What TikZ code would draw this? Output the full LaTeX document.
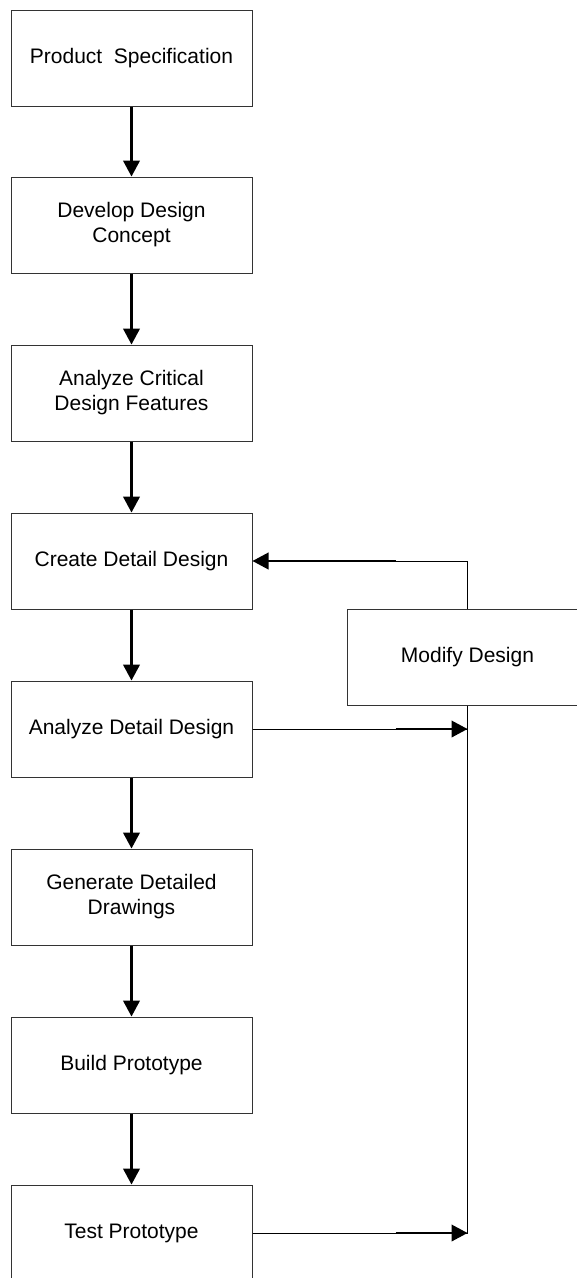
\documentclass[tikz,border=0pt]{standalone}
\usepackage{fontspec}
\setmainfont{Liberation Sans}
\usetikzlibrary{arrows.meta,positioning}
\tikzset{
  flow box/.style={draw=black!80, line width=0.75pt, minimum width=241*0.75pt,
    minimum height=96*0.75pt, inner sep=2pt, align=center,
    font=\fontsize{15.75}{18.75}\selectfont},
  flow arrow/.style={-{Triangle[length=12pt,width=12.5pt]},line width=1.6pt},
  back line/.style={line width=0.75pt},
  back arrow/.style={-{Triangle[length=12pt,width=12.5pt]},line width=1.3pt}
}
\newcommand{\flowStep}[3]{%
  \node[flow box] (#1) at (131.5,#2) {#3};%
}

\begin{document}
\begin{tikzpicture}[x=0.75pt,y=-0.75pt]
  \useasboundingbox (0,0) rectangle (577,1278);
  \clip (0,0) rectangle (577,1278);

  \flowStep{spec}{58}{Product\ \ Specification}
  \flowStep{concept}{225}{Develop Design\\Concept}
  \flowStep{critical}{393}{Analyze Critical\\Design Features}
  \flowStep{detail}{561}{Create Detail Design}
  \flowStep{analyze}{729}{Analyze Detail Design}
  \flowStep{drawings}{897}{Generate Detailed\\Drawings}
  \flowStep{build}{1065}{Build Prototype}
  \flowStep{test}{1233}{Test Prototype}

  \node[flow box] (modify) at (467.5,657) {Modify Design};

  % main chain
  \foreach \a/\b in {spec/concept,concept/critical,critical/detail,
    detail/analyze,analyze/drawings,drawings/build,build/test}
    \draw[flow arrow] (\a) -- (\b);

  % loop back through modify
  \coordinate (upTurn) at (modify.north |- detail.east);
  \coordinate (joinA) at (modify.south |- analyze.east);
  \coordinate (joinB) at (modify.south |- test.east);

  \draw[back line] (modify.north) -- (upTurn) -- ([xshift=-54pt]upTurn);
  \draw[back arrow] ([xshift=-54pt]upTurn) -- (detail.east);
  \draw[back line] (analyze.east) -- (joinA);
  \draw[back arrow] ([xshift=-54pt]joinA) -- (joinA);
  \draw[back line] (test.east) -- (joinB);
  \draw[back arrow] ([xshift=-54pt]joinB) -- (joinB);
  \draw[back line] (modify.south) -- (joinB);
\end{tikzpicture}
\end{document}
